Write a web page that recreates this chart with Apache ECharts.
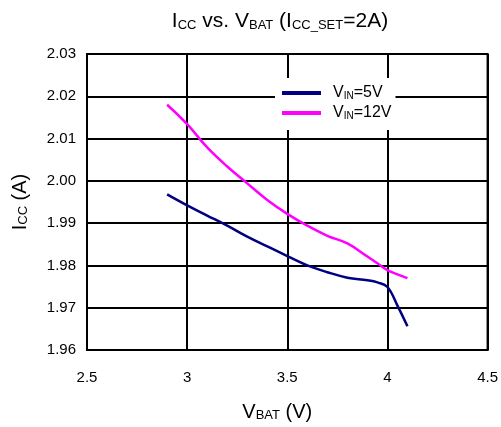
<!DOCTYPE html>
<html>
<head>
<meta charset="utf-8">
<script src="https://cdn.jsdelivr.net/npm/echarts@6/dist/echarts.min.js"></script>
<style>html,body{margin:0;padding:0;background:#fff}#c{width:501px;height:427px}</style>
</head>
<body>
<div id="c"></div>
<script>
var vbat = [2.9, 3.0, 3.1, 3.2, 3.3, 3.4, 3.5, 3.6, 3.7, 3.8, 3.9, 3.95, 4.0, 4.05, 4.1];
var icc5V = [1.9968, 1.9942, 1.9918, 1.9894, 1.9868, 1.9845, 1.9822, 1.9800, 1.9784, 1.9771, 1.9765, 1.9760, 1.9749, 1.9705, 1.9656];
var icc12V = [2.0180, 2.0134, 2.0079, 2.0034, 1.9994, 1.9955, 1.9922, 1.9894, 1.9870, 1.9852, 1.9821, 1.9805, 1.9789, 1.9779, 1.9770];
var xTicks = [2.5, 3, 3.5, 4, 4.5];
var yTicks = [1.96, 1.97, 1.98, 1.99, 2.00, 2.01, 2.02, 2.03];

function pairs(xs, ys) { return xs.map(function (x, i) { return [x, ys[i]]; }); }
var FONT = 'Liberation Sans, Arial, sans-serif';
function rich(main, sub, lh, slh) {
  return {
    a: {fontSize: main, fontFamily: FONT, fontWeight: 'normal', color: '#000', verticalAlign: 'bottom', lineHeight: lh},
    s: {fontSize: sub, fontFamily: FONT, fontWeight: 'normal', color: '#000', verticalAlign: 'bottom', lineHeight: slh}
  };
}
var chart = echarts.init(document.getElementById('c'));
chart.setOption({
  animation: false,
  backgroundColor: '#fff',
  title: {
    text: '{a|I}{s|CC}{a| vs. V}{s|BAT}{a| (I}{s|CC_SET}{a|=2A)}',
    left: 275, top: 3, textAlign: 'center',
    textStyle: {fontWeight: 'normal', rich: rich(21, 13, 24, 16)}
  },
  legend: {
    orient: 'vertical', left: 275, top: 78,
    backgroundColor: '#fff',
    padding: [7, 4, 9, 7],
    itemGap: 4,
    itemWidth: 39, itemHeight: 4,
    icon: 'rect',
    data: ['5V', '12V'],
    formatter: function (n) { return '{a|V}{s|IN}{a|=' + n + '}'; },
    textStyle: {padding: [0, 0, 0, 7], rich: rich(16, 10, 16, 12)}
  },
  grid: {left: 87, right: 13, top: 54, bottom: 77, show: true, borderColor: '#000', borderWidth: 2, z: 3},
  xAxis: {
    type: 'value', min: xTicks[0], max: xTicks[xTicks.length - 1], interval: 0.5,
    name: '{a|V}{s|BAT}{a| (V)}', nameLocation: 'middle', nameGap: 50,
    nameTextStyle: {padding: [0, 20, 0, 0], rich: rich(20, 13, 22, 16)},
    axisLine: {show: true, lineStyle: {color: '#000', width: 2}},
    axisTick: {show: false},
    axisLabel: {margin: 20, fontSize: 15, fontFamily: FONT, color: '#000'},
    splitLine: {show: true, lineStyle: {color: '#000', width: 2}}
  },
  yAxis: {
    type: 'value', min: yTicks[0], max: yTicks[yTicks.length - 1], interval: 0.01,
    name: '{a|I}{s|CC}{a| (A)}', nameLocation: 'middle', nameGap: 57, nameRotate: 90,
    nameTextStyle: {rich: rich(20, 13, 22, 16)},
    axisLine: {show: true, lineStyle: {color: '#000', width: 2}},
    axisTick: {show: false},
    axisLabel: {margin: 11, fontSize: 15, fontFamily: FONT, color: '#000',
      formatter: function (v) { return v.toFixed(2); }},
    splitLine: {show: true, lineStyle: {color: '#000', width: 2}}
  },
  series: [
    {name: '5V', type: 'line', data: pairs(vbat, icc5V), smooth: 0.4, showSymbol: false,
      lineStyle: {color: '#000080', width: 2.5}, itemStyle: {color: '#000080'}, z: 4},
    {name: '12V', type: 'line', data: pairs(vbat, icc12V), smooth: 0.4, showSymbol: false,
      lineStyle: {color: '#ff00ff', width: 2.5}, itemStyle: {color: '#ff00ff'}, z: 4}
  ]
});
</script>
</body>
</html>
